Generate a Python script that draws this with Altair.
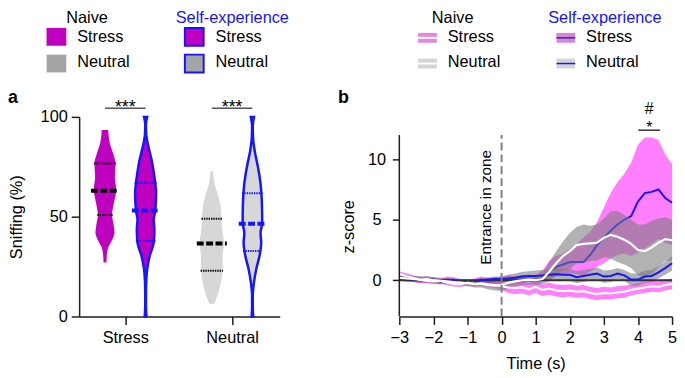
import altair as alt
import numpy as np
import pandas as pd

FONT = "Liberation Sans"
FS = 16.5
BLUE = "#1515ff"
MAGENTA = "#c000c0"
VIOLIN_GRAY = "#d7d7d7"
SWATCH_GRAY = "#a5a5a5"
PINK = "#ff00ff"
BAND_GRAY = "#7a7a7a"
AXIS_COLOR = "#1e1e1e"

CATEGORIES = ["Stress", "Neutral"]
CONDITIONS = ["Naive", "Self-experience"]

# ---------------- panel a : violin profiles (value %, density half-width px) ----------------
NAIVE_STRESS_VAL = [27.1, 29.6, 33.7, 37.8, 41.9, 46.0, 50.8, 56.8, 63.4, 70.0, 76.6, 81.5, 86.5, 93.4]
NAIVE_STRESS_DEN = [1.5, 1.7, 2.7, 6.7, 9.7, 8.7, 7.2, 9.0, 11.3, 10.0, 10.7, 8.3, 5.0, 3.3]
SELF_STRESS_VAL = [0.0, 2.3, 5.6, 10.5, 17.2, 23.8, 30.4, 37.0, 43.6, 48.5, 53.5, 61.7, 70.0, 78.2, 86.5, 91.4, 96.4, 100.0]
SELF_STRESS_DEN = [2.0, 1.7, 0.7, 1.0, 1.7, 2.7, 5.3, 9.3, 10.0, 9.3, 11.0, 11.7, 10.0, 7.3, 3.3, 1.7, 1.0, 2.7]
NAIVE_NEUTRAL_VAL = [6.4, 10.5, 17.2, 23.8, 30.4, 37.0, 41.9, 48.5, 55.1, 60.1, 66.7, 72.8]
NAIVE_NEUTRAL_DEN = [2.5, 5.7, 9.3, 11.0, 11.0, 12.3, 11.0, 10.0, 9.0, 6.7, 2.7, 1.3]
SELF_NEUTRAL_VAL = [0.0, 1.5, 5.6, 10.5, 17.2, 23.8, 30.4, 37.0, 41.9, 46.9, 56.8, 66.7, 74.9, 83.2, 89.8, 95.5, 100.0]
SELF_NEUTRAL_DEN = [2.0, 1.7, 0.7, 1.3, 2.7, 5.0, 8.3, 10.0, 9.3, 11.0, 10.7, 9.3, 6.7, 3.3, 1.7, 1.0, 2.7]
# quartiles [Q1, median, Q3]
NAIVE_STRESS_Q = [50.8, 63.0, 76.6]
SELF_STRESS_Q = [37.8, 53.1, 67.0]
NAIVE_NEUTRAL_Q = [22.9, 36.6, 49.0]
SELF_NEUTRAL_Q = [32.8, 46.5, 61.7]

# ---------------- panel b : z-score traces ----------------
TIME = [-3.0, -2.8, -2.6, -2.4, -2.2, -2.0, -1.8, -1.6, -1.4, -1.2, -1.0, -0.8, -0.6, -0.4, -0.2, 0.0,
        0.2, 0.4, 0.6, 0.8, 1.0, 1.2, 1.4, 1.6, 1.8, 2.0, 2.2, 2.4, 2.6, 2.8, 3.0, 3.2, 3.4, 3.6, 3.8,
        4.0, 4.2, 4.4, 4.6, 4.8, 5.0]
NAIVE_STRESS_MEAN = [0.5, 0.35, 0.2, 0.05, -0.05, -0.1, -0.05, -0.2, -0.3, -0.35, -0.2, -0.3, -0.25, -0.35, -0.4, -0.5,
                     -0.6, -0.65, -0.6, -0.75, -0.55, -0.8, -0.7, -0.85, -0.9, -0.85, -0.95, -0.9, -1.05, -1.15,
                     -1.05, -1.1, -1.0, -0.95, -0.8, -0.7, -0.6, -0.5, -0.55, -0.4, -0.3]
NAIVE_STRESS_SEM = [0.22, 0.22, 0.22, 0.22, 0.22, 0.22, 0.22, 0.22, 0.22, 0.22, 0.22, 0.22, 0.22, 0.22, 0.25, 0.3,
                    0.45, 0.5, 0.5, 0.5, 0.5, 0.5, 0.5, 0.5, 0.5, 0.5, 0.5, 0.5, 0.5, 0.5, 0.5, 0.5, 0.5, 0.5,
                    0.45, 0.45, 0.45, 0.45, 0.45, 0.45, 0.45]
NAIVE_NEUTRAL_MEAN = [0.2, 0.15, 0.1, 0.05, 0.1, 0.0, -0.05, -0.1, -0.15, -0.2, -0.25, -0.3, -0.3, -0.4, -0.45, -0.4,
                      -0.2, -0.1, 0.0, 0.05, 0.0, 0.1, 0.7, 1.4, 2.0, 2.4, 2.9, 3.0, 3.05, 3.1, 3.5, 3.75, 3.6,
                      3.35, 3.0, 2.5, 2.4, 2.7, 3.1, 3.4, 3.3]
NAIVE_NEUTRAL_SEM = [0.25, 0.25, 0.25, 0.25, 0.25, 0.25, 0.25, 0.25, 0.25, 0.25, 0.25, 0.3, 0.3, 0.35, 0.4, 0.5,
                     0.45, 0.4, 0.4, 0.4, 0.4, 0.4, 0.8, 1.0, 1.2, 1.5, 1.5, 1.6, 1.45, 1.5, 1.6, 1.95, 2.1,
                     2.05, 2.0, 2.1, 2.2, 2.2, 2.0, 1.8, 1.7]
SELF_STRESS_MEAN = [0.3, 0.2, 0.1, 0.0, 0.05, 0.0, -0.1, 0.05, 0.0, -0.15, -0.2, -0.1, 0.05, -0.1, 0.0, 0.05,
                    0.1, 0.05, 0.1, 0.15, 0.1, 0.2, 0.7, 1.1, 1.3, 1.5, 1.5, 1.5, 2.1, 2.9, 3.5, 4.1, 4.6,
                    5.0, 5.3, 6.5, 7.2, 7.3, 7.5, 6.8, 6.4]
SELF_STRESS_LOWER = [0.05, -0.05, -0.15, -0.25, -0.2, -0.25, -0.35, -0.2, -0.25, -0.4, -0.45, -0.35, -0.2, -0.35, -0.25, -0.25,
                     -0.2, -0.25, -0.2, -0.15, -0.2, -0.1, 0.1, 0.3, 0.5, 0.6, 0.5, 0.4, 0.7, 1.1, 1.4, 1.8, 2.1,
                     2.2, 2.0, 2.3, 2.6, 3.0, 3.4, 3.1, 2.9]
SELF_STRESS_UPPER = [0.55, 0.45, 0.35, 0.25, 0.3, 0.25, 0.15, 0.3, 0.25, 0.1, 0.05, 0.15, 0.3, 0.15, 0.25, 0.3,
                     0.4, 0.35, 0.4, 0.45, 0.4, 0.8, 1.6, 2.0, 2.2, 2.6, 3.0, 3.5, 4.0, 4.8, 6.0, 7.2, 8.1,
                     8.8, 9.7, 11.2, 11.8, 11.8, 11.6, 10.4, 9.6]
SELF_NEUTRAL_MEAN = [0.2, 0.1, 0.05, 0.1, 0.0, 0.05, -0.1, -0.05, 0.0, -0.2, -0.1, -0.2, 0.0, 0.05, 0.1, 0.1,
                     0.15, 0.2, 0.3, 0.35, 0.35, 0.4, 0.45, 0.5, 0.45, 0.45, 0.25, 0.35, 0.45, 0.55, 0.3, 0.35,
                     0.55, 0.4, 0.05, 0.05, 0.3, 0.35, 0.65, 1.0, 1.4]
SELF_NEUTRAL_SEM = [0.2, 0.2, 0.2, 0.2, 0.2, 0.2, 0.2, 0.2, 0.2, 0.2, 0.2, 0.2, 0.2, 0.2, 0.2, 0.2,
                    0.3, 0.35, 0.4, 0.4, 0.45, 0.45, 0.5, 0.5, 0.5, 0.5, 0.5, 0.5, 0.5, 0.5, 0.5, 0.5, 0.45,
                    0.45, 0.5, 0.5, 0.5, 0.5, 0.5, 0.55, 0.6]

# ---------------- layout constants ----------------
A_W, A_H = 203, 202
B_W, B_H = 276, 202
XA_DOMAIN = [-0.92, 3.08]
PX_A = A_W / (XA_DOMAIN[1] - XA_DOMAIN[0])
CAT_POS = [0.0, 2.13]
COND_OFFSET = [-0.405, 0.405]
TITLE_Y = -99.75
ROW_Y = [-81, -55]
ONE = pd.DataFrame({"k": [0]})
NO_PAD = {"left": 0, "top": 0, "right": 0, "bottom": 0}

xa = alt.Scale(domain=XA_DOMAIN, nice=False, zero=False)
ya = alt.Scale(domain=[0, 100], nice=False, zero=False)
xb = alt.Scale(domain=[-3, 5], nice=False, zero=False)
yb = alt.Scale(domain=[-3, 13.5], nice=False, zero=False)

AX_A_X = alt.Axis(values=CAT_POS, title=None, tickSize=8, labelPadding=5, labelFlush=False, grid=False,
                  labelExpr=f"datum.value < {(CAT_POS[0] + CAT_POS[1]) / 2} ? '{CATEGORIES[0]}' : '{CATEGORIES[1]}'")
AX_A_Y = alt.Axis(values=[0, 50, 100], title="Sniffing (%)", tickSize=8, labelPadding=4, labelFlush=False,
                  grid=False, titleX=-63, titleBaseline="middle")
AX_B_X = alt.Axis(values=list(range(-3, 6)), title="Time (s)", tickSize=8, labelPadding=5, titlePadding=10,
                  labelFlush=False, grid=False, labelExpr="replace(datum.label, '-', '\u2212')")
AX_B_Y = alt.Axis(values=[0, 5, 10], title="z-score", domain=False, tickSize=7, labelPadding=16,
                  labelAlign="center", labelFlush=False, grid=False, titleX=-51, titleY=110.7,
                  titleBaseline="middle")


def XA(f):
    return alt.X(f, scale=xa, axis=AX_A_X)


def YA(f):
    return alt.Y(f, scale=ya, axis=AX_A_Y)


def XB(f):
    return alt.X(f, scale=xb, axis=AX_B_X)


def YB(f):
    return alt.Y(f, scale=yb, axis=AX_B_Y)


def text_at(text, x, y, align="left", color="black", size=FS, weight="normal", baseline="middle"):
    return alt.Chart(ONE).mark_text(text=text, align=align, baseline=baseline, font=FONT, fontSize=size,
                                    fontWeight=weight, color=color).encode(x=alt.value(x), y=alt.value(y))


def box(x1, x2, y1, y2, fill, stroke=None):
    kw = dict(fill=fill)
    if stroke:
        kw.update(stroke=stroke, strokeWidth=2)
    return alt.Chart(ONE).mark_rect(**kw).encode(x=alt.value(x1), x2=alt.value(x2), y=alt.value(y1), y2=alt.value(y2))


def hline(x1, x2, y, color, width):
    return alt.Chart(ONE).mark_rule(color=color, strokeWidth=width).encode(x=alt.value(x1), x2=alt.value(x2), y=alt.value(y))


# ================= panel a =================
violins = [
    (0, 0, NAIVE_STRESS_VAL, NAIVE_STRESS_DEN, NAIVE_STRESS_Q),
    (0, 1, SELF_STRESS_VAL, SELF_STRESS_DEN, SELF_STRESS_Q),
    (1, 0, NAIVE_NEUTRAL_VAL, NAIVE_NEUTRAL_DEN, NAIVE_NEUTRAL_Q),
    (1, 1, SELF_NEUTRAL_VAL, SELF_NEUTRAL_DEN, SELF_NEUTRAL_Q),
]
a_layers = []
q_rows = []
for cat, cond, vals, dens, qs in violins:
    center = CAT_POS[cat] + COND_OFFSET[cond]
    outline = cond == 1
    hw = np.maximum(np.array(dens) - (1.1 if outline else 0.0), 0.35) / PX_A
    df = pd.DataFrame({"val": vals, "xl": center - hw, "xr": center + hw}).sort_values("val")
    fill = MAGENTA if cat == 0 else VIOLIN_GRAY
    mk = dict(orient="horizontal", interpolate="monotone", fill=fill, opacity=1)
    if outline:
        mk.update(stroke=BLUE, strokeWidth=2.5)
    a_layers.append(alt.Chart(df).mark_area(**mk).encode(x=XA("xl:Q"), x2="xr:Q", y=YA("val:Q")))
    sv = np.array(vals)
    sd = np.array(dens)
    order = np.argsort(sv)
    for k, q in enumerate(qs):
        w = np.interp(q, sv[order], sd[order]) + (3.0 if k == 1 else 0.5)
        q_rows.append({"val": q, "xl": center - w / PX_A, "xr": center + w / PX_A,
                       "kind": "median" if k == 1 else "quartile",
                       "color": "black" if cond == 0 else BLUE})
qdf = pd.DataFrame(q_rows)
a_layers.append(alt.Chart(qdf[qdf.kind == "quartile"]).mark_rule(strokeDash=[1.4, 1.0], strokeWidth=2).encode(
    x=XA("xl:Q"), x2="xr:Q", y=YA("val:Q"), color=alt.Color("color:N", scale=None)))
a_layers.append(alt.Chart(qdf[qdf.kind == "median"]).mark_rule(strokeDash=[7, 2.5], strokeWidth=4, strokeCap="butt").encode(
    x=XA("xl:Q"), x2="xr:Q", y=YA("val:Q"), color=alt.Color("color:N", scale=None)))

sig_a = pd.DataFrame({"x1": [p + COND_OFFSET[0] for p in CAT_POS], "x2": [p + COND_OFFSET[1] for p in CAT_POS],
                      "y": [104.3, 104.3], "xc": CAT_POS, "ty": [102.0, 102.0], "label": ["***", "***"]})
a_layers.append(alt.Chart(sig_a).mark_rule(color="#555555", strokeWidth=1.5).encode(
    x=XA("x1:Q"), x2="x2:Q", y=YA("y:Q")))
a_layers.append(alt.Chart(sig_a).mark_text(font=FONT, fontSize=18, baseline="alphabetic", align="center", color="black").encode(
    x=XA("xc:Q"), y=YA("ty:Q"), text="label:N"))

A_TITLE_X = [8, 155]
A_SW_X = [(-33, -13), (107, 126)]
A_SW_Y = [(-90, -72), (-63, -45)]
A_LBL_X = [-2, 138]
for j, cond in enumerate(CONDITIONS):
    a_layers.append(text_at(cond, A_TITLE_X[j], TITLE_Y, align="center", color="black" if j == 0 else BLUE))
    for i, cat in enumerate(CATEGORIES):
        fill = MAGENTA if i == 0 else SWATCH_GRAY
        a_layers.append(box(A_SW_X[j][0], A_SW_X[j][1], A_SW_Y[i][0], A_SW_Y[i][1], fill, BLUE if j == 1 else None))
        a_layers.append(text_at(cat, A_LBL_X[j], ROW_Y[i]))
a_layers.append(text_at("a", -72, -19, weight="bold", size=18))

panel_a = alt.layer(*a_layers).properties(width=A_W, height=A_H)

# ================= panel b =================
def sem_df(mean, sem):
    m = np.array(mean)
    s = np.array(sem)
    return pd.DataFrame({"t": TIME, "mean": m, "lo": m - s, "hi": m + s})


ns_df = sem_df(NAIVE_STRESS_MEAN, NAIVE_STRESS_SEM)
nn_df = sem_df(NAIVE_NEUTRAL_MEAN, NAIVE_NEUTRAL_SEM)
sen_df = sem_df(SELF_NEUTRAL_MEAN, SELF_NEUTRAL_SEM)
ses_df = pd.DataFrame({"t": TIME, "mean": SELF_STRESS_MEAN, "lo": SELF_STRESS_LOWER, "hi": SELF_STRESS_UPPER})

b_layers = []


def band(df, color, opacity):
    return alt.Chart(df).mark_area(color=color, opacity=opacity).encode(x=XB("t:Q"), y=YB("lo:Q"), y2="hi:Q")


def trace(df, color, width):
    return alt.Chart(df).mark_line(color=color, strokeWidth=width).encode(x=XB("t:Q"), y=YB("mean:Q"))


b_layers.append(band(ns_df, PINK, 0.5))
b_layers.append(band(ses_df, PINK, 0.5))
b_layers.append(trace(ses_df, BLUE, 2))
b_layers.append(band(nn_df, BAND_GRAY, 0.58))
b_layers.append(band(sen_df, BAND_GRAY, 0.58))

zero_df = pd.DataFrame({"x": [-3.0], "x2": [5.0], "y": [0.0]})
b_layers.append(alt.Chart(zero_df).mark_rule(color="#333333", strokeWidth=2).encode(
    x=XB("x:Q"), x2="x2:Q", y=YB("y:Q")))
b_layers.append(trace(sen_df, BLUE, 2))
b_layers.append(trace(ns_df, "white", 2.2))
b_layers.append(trace(nn_df, "white", 2.2))

vline_df = pd.DataFrame({"x": [0.0, -3.0], "y": [-3.0, -3.0], "y2": [12.0, 12.0], "kind": ["entry", "axis"]})
b_layers.append(alt.Chart(vline_df[vline_df.kind == "entry"]).mark_rule(color="#808080", strokeWidth=2, strokeDash=[8, 4]).encode(
    x=XB("x:Q"), y=YB("y:Q"), y2="y2:Q"))
b_layers.append(alt.Chart(vline_df[vline_df.kind == "axis"]).mark_rule(color=AXIS_COLOR, strokeWidth=1.5).encode(
    x=XB("x:Q"), y=YB("y:Q"), y2="y2:Q"))

ann_df = pd.DataFrame({"t": [-0.31], "v": [1.28], "label": ["Entrance in zone"]})
b_layers.append(alt.Chart(ann_df).mark_text(font=FONT, fontSize=15.5, angle=270, align="left", baseline="alphabetic", color="black").encode(
    x=XB("t:Q"), y=YB("v:Q"), text="label:N"))

sig_b = pd.DataFrame({"x1": [4.01], "x2": [4.65], "y": [12.4]})
b_layers.append(alt.Chart(sig_b).mark_rule(color="#333333", strokeWidth=1.5).encode(
    x=XB("x1:Q"), x2="x2:Q", y=YB("y:Q")))
sig_b_txt = pd.DataFrame({"t": [4.33, 4.33], "v": [12.2, 13.75], "label": ["*", "#"]})
b_layers.append(alt.Chart(sig_b_txt).mark_text(font=FONT, fontSize=16, baseline="alphabetic", align="center", color="black").encode(
    x=XB("t:Q"), y=YB("v:Q"), text="label:N"))

B_TITLE_X = [54, 208]
B_SW_X = [(19, 38), (159, 178)]
B_SW_Y = [(-85, -75), (-59, -49)]
B_LBL_X = [49, 189]
B_SW_FILL = [["#e386e3", "#d4d4d4"], ["#d686d9", "#d4d4d4"]]
B_SW_LINE = [["white", "white"], ["#3528a8", BLUE]]
for j, cond in enumerate(CONDITIONS):
    b_layers.append(text_at(cond, B_TITLE_X[j], TITLE_Y, align="center", color="black" if j == 0 else BLUE))
    for i, cat in enumerate(CATEGORIES):
        y0, y1 = B_SW_Y[i]
        b_layers.append(box(B_SW_X[j][0], B_SW_X[j][1], y0, y1, B_SW_FILL[j][i]))
        b_layers.append(hline(B_SW_X[j][0], B_SW_X[j][1], (y0 + y1) / 2, B_SW_LINE[j][i], 2 if j == 0 else 1.5))
        b_layers.append(text_at(cat, B_LBL_X[j], ROW_Y[i]))
b_layers.append(text_at("b", -62, -19, weight="bold", size=18))

panel_b = alt.layer(*b_layers).properties(width=B_W, height=B_H)

chart = alt.hconcat(panel_a, panel_b, spacing=121, bounds="flush", padding=NO_PAD).configure(
    padding=NO_PAD
).configure_view(
    stroke=None
).configure_axis(
    domainColor=AXIS_COLOR, domainWidth=1.5, tickColor=AXIS_COLOR, tickWidth=1.5,
    labelFont=FONT, labelFontSize=FS, labelColor="black",
    titleFont=FONT, titleFontSize=FS, titleFontWeight="normal", titleColor="black",
)

chart.save("out.html", embed_options={"renderer": "svg", "actions": False})
